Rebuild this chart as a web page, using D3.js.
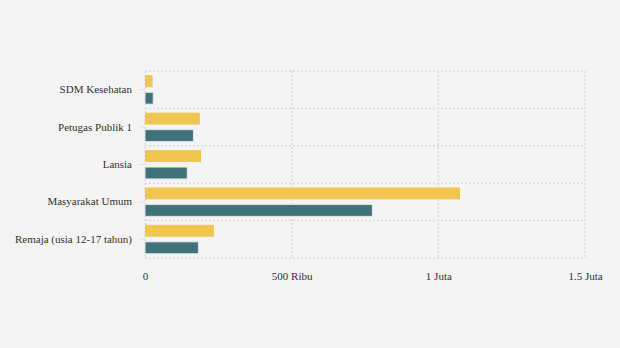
<!DOCTYPE html>
<html>
<head>
<meta charset="utf-8">
<script src="https://cdn.jsdelivr.net/npm/d3@7"></script>
<style>
  body { margin: 0; background: #f4f4f4; }
  svg { display: block; }
  .tick text { font-family: "Liberation Serif", "DejaVu Serif", serif; font-size: 11px; fill: #333; }
</style>
</head>
<body>
<div id="chart"></div>
<script>
// data
const categories = ["SDM Kesehatan", "Petugas Publik 1", "Lansia", "Masyarakat Umum", "Remaja (usia 12-17 tahun)"];
const seriesNames = ["Dosis 1", "Dosis 2"];
const dosis1 = [26000, 187000, 191000, 1074000, 235000];
const dosis2 = [28000, 165000, 144000, 775000, 182000];
const xTicks = [0, 500000, 1000000, 1500000];
const xTickLabels = ["0", "500 Ribu", "1 Juta", "1.5 Juta"];
const colors = ["#f0c651", "#40727a"];

const width = 620, height = 348;
const margin = {top: 71, right: 35, bottom: 90, left: 145};
const w = width - margin.left - margin.right;
const h = height - margin.top - margin.bottom;

const svg = d3.select("#chart").append("svg")
    .attr("width", width)
    .attr("height", height);

const g = svg.append("g")
    .attr("transform", `translate(${margin.left},${margin.top})`);

const x = d3.scaleLinear().domain([0, 1500000]).range([0, w]);
const y = d3.scaleBand().domain(categories).range([0, h]);
const ySub = d3.scaleBand().domain(seriesNames)
    .range([0, y.bandwidth()])
    .paddingInner(0.3)
    .paddingOuter(0.25);
const color = d3.scaleOrdinal().domain(seriesNames).range(colors);

// dotted grid
const grid = g.append("g").attr("class", "grid")
    .attr("stroke", "#dcdcdc")
    .attr("stroke-width", 1.5)
    .attr("stroke-dasharray", "2,2")
    .attr("fill", "none");

grid.selectAll(".vline")
  .data(xTicks)
  .join("line")
    .attr("x1", d => x(d)).attr("x2", d => x(d))
    .attr("y1", 0).attr("y2", h);

const bounds = categories.map(c => y(c)).concat([h]);
grid.selectAll(".hline")
  .data(bounds)
  .join("line")
    .attr("x1", 0).attr("x2", w)
    .attr("y1", d => d).attr("y2", d => d);

// bars
const rows = categories.map((c, i) => ({
  category: c,
  values: [
    {series: seriesNames[0], value: dosis1[i]},
    {series: seriesNames[1], value: dosis2[i]}
  ]
}));

const groups = g.selectAll(".cat")
  .data(rows)
  .join("g")
    .attr("class", "cat")
    .attr("transform", d => `translate(0,${y(d.category)})`);

groups.selectAll("rect")
  .data(d => d.values)
  .join("rect")
    .attr("x", x(0))
    .attr("y", d => ySub(d.series))
    .attr("width", d => x(d.value) - x(0))
    .attr("height", ySub.bandwidth())
    .attr("fill", d => color(d.series))
    .attr("stroke", d => d.series === seriesNames[1] ? "#dfe6e7" : "none")
    .attr("stroke-width", 1);

// axes
const yAxis = d3.axisLeft(y).tickSize(6).tickPadding(7);
g.append("g")
    .call(yAxis)
    .call(a => a.select(".domain").remove())
    .call(a => a.selectAll(".tick line").attr("stroke", "#e2e2e2"));

const xAxis = d3.axisBottom(x)
    .tickValues(xTicks)
    .tickFormat((d, i) => xTickLabels[i])
    .tickSize(0)
    .tickPadding(14);
g.append("g")
    .attr("transform", `translate(0,${h})`)
    .call(xAxis)
    .call(a => a.select(".domain").remove());
</script>
</body>
</html>
